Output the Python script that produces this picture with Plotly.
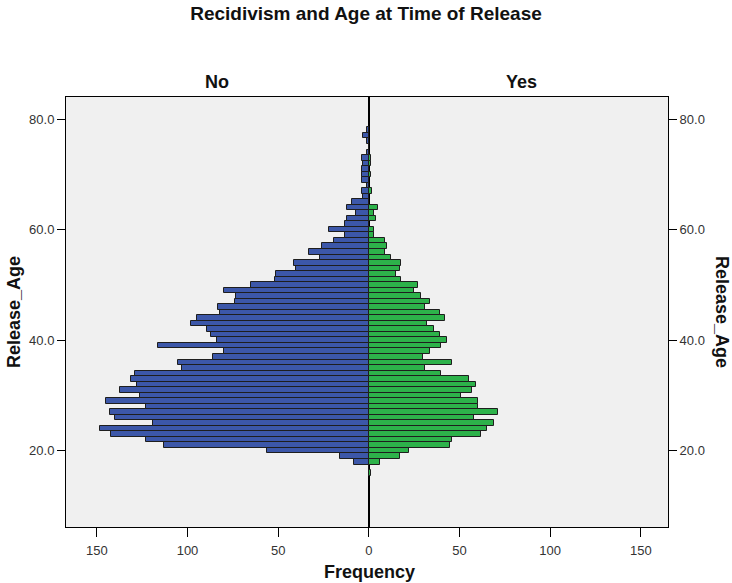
import plotly.graph_objects as go

ages = list(range(16, 79))

# Frequencies (age 16 .. 78)
no_counts = {
    78: 1, 77: 3, 76: 1, 75: 0, 74: 1, 73: 4, 72: 3, 71: 4, 70: 4, 69: 4, 68: 1,
    67: 4, 66: 3, 65: 9, 64: 12, 63: 7, 62: 12, 61: 13, 60: 22, 59: 13, 58: 19,
    57: 26, 56: 33, 55: 27, 54: 41, 53: 40, 52: 51, 51: 52, 50: 65, 49: 80,
    48: 73, 47: 74, 46: 83, 45: 82, 44: 95, 43: 98, 42: 89, 41: 87, 40: 84,
    39: 116, 38: 80, 37: 86, 36: 105, 35: 103, 34: 129, 33: 131, 32: 128,
    31: 137, 30: 126, 29: 145, 28: 123, 27: 143, 26: 140, 25: 119, 24: 148,
    23: 142, 22: 123, 21: 113, 20: 56, 19: 16, 18: 8, 17: 0, 16: 0,
}
yes_counts = {
    78: 0, 77: 0, 76: 0, 75: 0, 74: 0, 73: 1, 72: 1, 71: 0, 70: 1, 69: 0, 68: 0,
    67: 2, 66: 0, 65: 0, 64: 5, 63: 3, 62: 4, 61: 0, 60: 3, 59: 3, 58: 9,
    57: 10, 56: 9, 55: 12, 54: 18, 53: 17, 52: 15, 51: 18, 50: 27, 49: 25,
    48: 29, 47: 34, 46: 31, 45: 39, 44: 42, 43: 32, 42: 36, 41: 39, 40: 43,
    39: 40, 38: 34, 37: 30, 36: 46, 35: 31, 34: 40, 33: 55, 32: 59, 31: 57,
    30: 51, 29: 60, 28: 60, 27: 71, 26: 58, 25: 69, 24: 65, 23: 62, 22: 46,
    21: 45, 20: 22, 19: 17, 18: 6, 17: 0, 16: 1,
}
no_values = [no_counts[a] for a in ages]
yes_values = [yes_counts[a] for a in ages]

x_tick_vals = [-150, -100, -50, 0, 50, 100, 150]
x_tick_text = ["150", "100", "50", "0", "50", "100", "150"]
y_tick_vals = [20, 40, 60, 80]

FONT = "Liberation Sans, Arial, sans-serif"
Y_RANGE = [6.2, 84.0]

# plot area in pixels (reference): left 66, right 668, top 97, bottom 527
L, R, T, B = 66, 668, 97, 527
PW, PH = R - L, B - T


def px(xp):
    return (xp - L) / PW


def py(yp):
    return (B - yp) / PH


fig = go.Figure()
fig.add_trace(go.Bar(
    y=ages, x=[-v for v in no_values], orientation="h", width=1.0,
    marker=dict(color="#3C57A9", line=dict(color="#1E1E1E", width=1)),
    name="No", customdata=no_values,
    hovertemplate="Age %{y}: %{customdata}<extra>No</extra>",
))
fig.add_trace(go.Bar(
    y=ages, x=yes_values, orientation="h", width=1.0, yaxis="y2",
    marker=dict(color="#2DB24A", line=dict(color="#1E1E1E", width=1)),
    name="Yes",
    hovertemplate="Age %{y}: %{x}<extra>Yes</extra>",
))

title_font = dict(family=FONT, size=18, color="#111")
fig.update_layout(
    width=732, height=583,
    margin=dict(l=L, r=732 - R, t=T, b=583 - B),
    paper_bgcolor="white", plot_bgcolor="#F0F0F0",
    showlegend=False, barmode="overlay", bargap=0,
    font=dict(family=FONT, size=13, color="#222"),
    title=dict(text="<b>Recidivism and Age at Time of Release</b>",
               x=0.5, xanchor="center", xref="container",
               y=1 - 13 / 583, yanchor="middle", yref="container",
               font=dict(family=FONT, size=19, color="#111")),
    xaxis=dict(range=[-167, 165], tickvals=x_tick_vals, ticktext=x_tick_text,
               ticks="outside", ticklen=9, tickcolor="black",
               ticklabelstandoff=2,
               showline=True, linecolor="black", linewidth=1, mirror=True,
               showgrid=False, zeroline=True, zerolinecolor="black",
               zerolinewidth=1.5, tickfont=dict(size=13, color="#333")),
    yaxis=dict(range=Y_RANGE, tickvals=y_tick_vals, tickformat=".1f",
               ticks="outside", ticklen=8, tickcolor="black",
               showline=True, linecolor="black", linewidth=1, mirror=True,
               showgrid=False, zeroline=False,
               tickfont=dict(size=13, color="#333")),
    yaxis2=dict(range=Y_RANGE, tickvals=y_tick_vals, tickformat=".1f",
                overlaying="y", side="right",
                ticks="outside", ticklen=8, tickcolor="black",
                showline=True, linecolor="black", linewidth=1,
                showgrid=False, zeroline=False,
                tickfont=dict(size=13, color="#333")),
    annotations=[
        dict(text="<b>No</b>", x=px(217), xref="paper", xanchor="center",
             y=py(82), yref="paper", yanchor="middle", showarrow=False,
             font=title_font),
        dict(text="<b>Yes</b>", x=px(521), xref="paper", xanchor="center",
             y=py(82), yref="paper", yanchor="middle", showarrow=False,
             font=title_font),
        dict(text="<b>Frequency</b>", x=px(369), xref="paper", xanchor="center",
             y=py(572), yref="paper", yanchor="middle", showarrow=False,
             font=title_font),
        dict(text="<b>Release_Age</b>", x=px(14), xref="paper", xanchor="center",
             y=py(312), yref="paper", yanchor="middle", showarrow=False,
             textangle=-90, font=title_font),
        dict(text="<b>Release_Age</b>", x=px(722), xref="paper", xanchor="center",
             y=py(312), yref="paper", yanchor="middle", showarrow=False,
             textangle=90, font=title_font),
    ],
)

fig.write_html("out.html", config={"displayModeBar": False},
               post_script="document.body.style.margin='0';")
